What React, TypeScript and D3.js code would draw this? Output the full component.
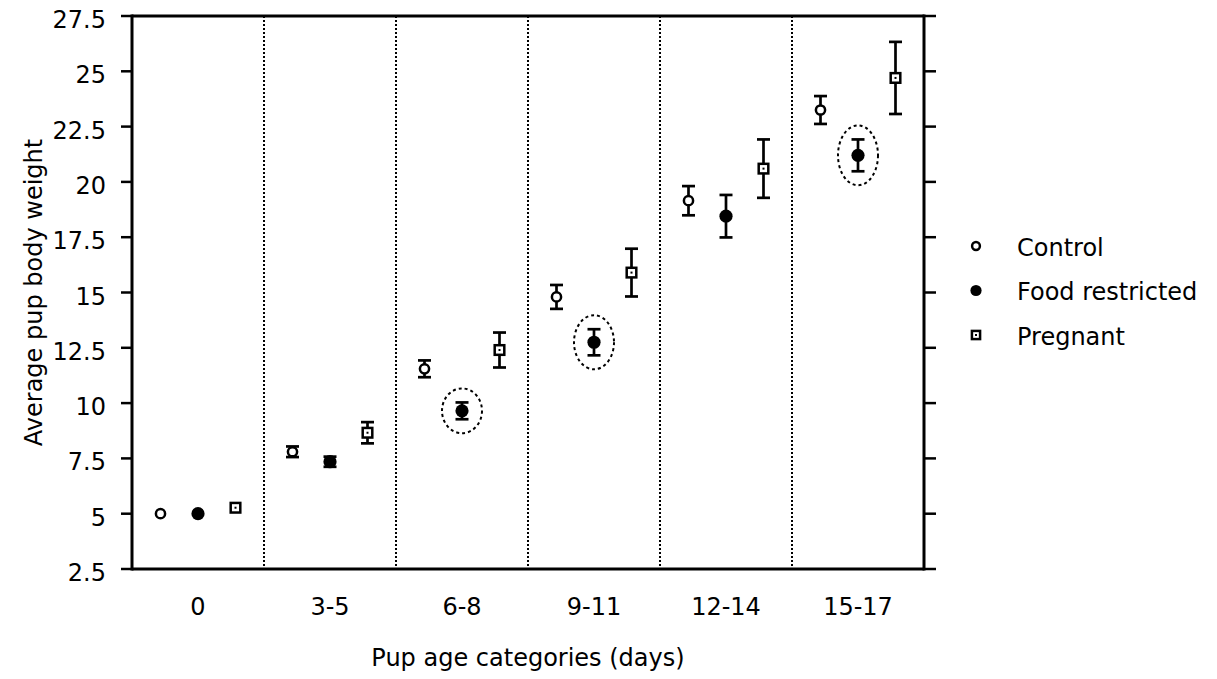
import * as d3 from "d3";

const categories = ["0", "3-5", "6-8", "9-11", "12-14", "15-17"];

const controlMean = [5.0, 7.8, 11.55, 14.8, 19.15, 23.25];
const controlErr = [0, 0.24, 0.38, 0.54, 0.66, 0.63];
const foodMean = [5.0, 7.35, 9.65, 12.75, 18.45, 21.2];
const foodErr = [0, 0.23, 0.38, 0.59, 0.96, 0.72];
const pregnantMean = [5.27, 8.66, 12.4, 15.9, 20.6, 24.7];
const pregnantErr = [0, 0.48, 0.79, 1.08, 1.32, 1.63];

const seriesNames = ["Control", "Food restricted", "Pregnant"];
const highlighted = ["6-8", "9-11", "15-17"];

const yTicks = [2.5, 5, 7.5, 10, 12.5, 15, 17.5, 20, 22.5, 25, 27.5];

const W = 1217;
const H = 679;
const plot = { left: 132, right: 924, top: 16, bottom: 569 };
const FONT = "'DejaVu Sans', Verdana, sans-serif";

type Kind = "open" | "filled" | "square";

const series: { name: string; kind: Kind; mean: number[]; err: number[] }[] = [
  { name: seriesNames[0], kind: "open", mean: controlMean, err: controlErr },
  { name: seriesNames[1], kind: "filled", mean: foodMean, err: foodErr },
  { name: seriesNames[2], kind: "square", mean: pregnantMean, err: pregnantErr },
];

function Marker({ kind, x, y, s = 1 }: { kind: Kind; x: number; y: number; s?: number }) {
  if (kind === "open")
    return <circle cx={x} cy={y} r={4.6 * s} fill="#fff" stroke="#000" strokeWidth={2.5} />;
  if (kind === "filled") return <circle cx={x} cy={y} r={6.6 * s} fill="#000" />;
  const h = 4.8 * s;
  return (
    <g>
      <rect x={x - h} y={y - h} width={h * 2} height={h * 2} fill="#fff" stroke="#000" strokeWidth={2.5} />
      <rect x={x - 1} y={y - 1} width={2} height={2} fill="#000" />
    </g>
  );
}

export default function App() {
  const x = d3.scaleBand<string>().domain(categories).range([plot.left, plot.right]).padding(0);
  const sub = d3.scalePoint<string>().domain(seriesNames).range([-37.5, 37.5]);
  const y = d3.scaleLinear().domain([2.5, 27.5]).range([plot.bottom, plot.top]);
  const fmt = d3.format("~g");

  const center = (c: string) => (x(c) as number) + x.bandwidth() / 2;
  const food = series[1];

  return (
    <svg
      width={W}
      height={H}
      style={{ position: "absolute", left: 0, top: 0, background: "#fff" }}
      fontFamily={FONT}
    >
      {/* category dividers */}
      {categories.slice(1).map((c) => (
        <line
          key={c}
          x1={x(c)}
          x2={x(c)}
          y1={plot.top}
          y2={plot.bottom}
          stroke="#000"
          strokeWidth={2}
          strokeDasharray="2,2"
        />
      ))}

      {/* frame */}
      <line x1={plot.left} x2={plot.right} y1={plot.top} y2={plot.top} stroke="#000" strokeWidth={3} />
      <line x1={plot.left} x2={plot.right} y1={plot.bottom} y2={plot.bottom} stroke="#000" strokeWidth={3} />
      <line x1={plot.left} x2={plot.left} y1={plot.top - 1.5} y2={plot.bottom + 1.5} stroke="#000" strokeWidth={3} />
      <line x1={plot.right} x2={plot.right} y1={plot.top - 1.5} y2={plot.bottom + 1.5} stroke="#000" strokeWidth={3} />

      {/* y ticks both sides */}
      {yTicks.map((t) => (
        <g key={t}>
          <line x1={plot.left - 11} x2={plot.left} y1={y(t)} y2={y(t)} stroke="#000" strokeWidth={2.5} />
          <line x1={plot.right} x2={plot.right + 12} y1={y(t)} y2={y(t)} stroke="#000" strokeWidth={2.5} />
          <text x={106} y={y(t) + 12} textAnchor="end" fontSize={24}>
            {fmt(t)}
          </text>
        </g>
      ))}

      {/* x labels */}
      {categories.map((c) => (
        <text key={c} x={center(c)} y={615} textAnchor="middle" fontSize={24}>
          {c}
        </text>
      ))}

      <text x={(plot.left + plot.right) / 2} y={666} textAnchor="middle" fontSize={24}>
        Pup age categories (days)
      </text>
      <text
        transform={`translate(42, ${(plot.top + plot.bottom) / 2}) rotate(-90)`}
        textAnchor="middle"
        fontSize={24}
      >
        Average pup body weight
      </text>

      {/* dashed ellipses around highlighted food-restricted points */}
      {highlighted.map((c) => {
        const i = categories.indexOf(c);
        const cy = y(food.mean[i]);
        const errPx = y(food.mean[i] - food.err[i]) - cy;
        return (
          <ellipse
            key={c}
            cx={center(c) + (sub(food.name) as number)}
            cy={cy}
            rx={20}
            ry={errPx + 14}
            fill="none"
            stroke="#000"
            strokeWidth={2}
            strokeDasharray="3,3"
          />
        );
      })}

      {/* error bars + markers */}
      {series.map((s) =>
        categories.map((c, i) => {
          const cx = center(c) + (sub(s.name) as number);
          const cy = y(s.mean[i]);
          const hi = y(s.mean[i] + s.err[i]);
          const lo = y(s.mean[i] - s.err[i]);
          return (
            <g key={s.name + c}>
              {s.err[i] > 0 && (
                <g stroke="#000" strokeWidth={2.7}>
                  <line x1={cx} x2={cx} y1={hi} y2={lo} />
                  <line x1={cx - 6.5} x2={cx + 6.5} y1={hi} y2={hi} />
                  <line x1={cx - 6.5} x2={cx + 6.5} y1={lo} y2={lo} />
                </g>
              )}
              <Marker kind={s.kind} x={cx} y={cy} />
            </g>
          );
        }),
      )}

      {/* legend */}
      {series.map((s, i) => (
        <g key={s.name} transform={`translate(976, ${246 + i * 44.5})`}>
          <Marker kind={s.kind} x={0} y={0} s={0.85} />
          <text x={41} y={9.5} fontSize={24}>
            {s.name}
          </text>
        </g>
      ))}
    </svg>
  );
}
